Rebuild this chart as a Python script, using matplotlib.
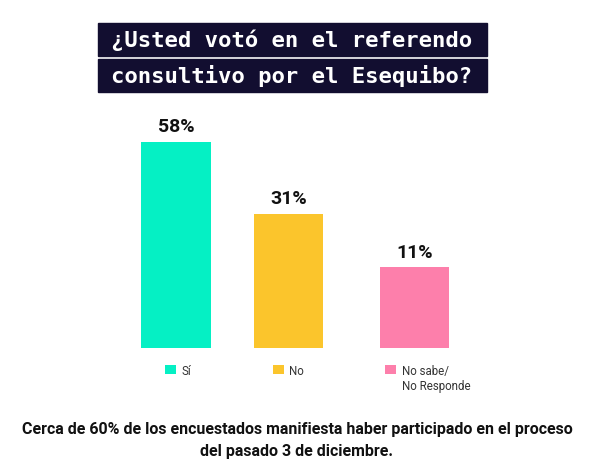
import numpy as np
import matplotlib.pyplot as plt
from matplotlib.patches import Rectangle, Patch

categories = ["Sí", "No", "No sabe/\nNo Responde"]
values = [58, 31, 11]
colors = ["#05f0c4", "#fbc52c", "#fd7fab"]
title_lines = ["¿Usted votó en el referendo", "consultivo por el Esequibo?"]
footer_lines = ["Cerca de 60% de los encuestados manifiesta haber participado en el proceso",
                "del pasado 3 de diciembre."]

W, H = 595, 471
fig = plt.figure(figsize=(W / 100, H / 100), dpi=100)
fig.patch.set_facecolor("white")

# axes placed in pixel terms: x 100..500, y 108..348 (from top)
ax = fig.add_axes([100 / W, (H - 348) / H, 400 / W, 240 / H])
xpos = [0, 1, 2.12]
floor = -19.3
ax.bar(xpos, np.array(values) - floor, bottom=floor, width=0.62, color=colors)
ax.set_xlim(-0.676, 2.88)
ax.set_ylim(floor, floor + 240 / 2.667)
ax.axis("off")

for x, v in zip(xpos, values):
    ax.annotate(f"{v}%", (x, v), xytext=(0, 4), textcoords="offset points",
                ha="center", va="bottom", fontsize=14, fontweight="bold",
                family="Roboto", color="#111111")

# title banners
navy = "#120e30"
for i, line in enumerate(title_lines):
    top = 23 + i * 36
    fig.patches.append(Rectangle((98 / W, 1 - (top + 33) / H), 389 / W, 33 / H,
                                 transform=fig.transFigure, color=navy, zorder=0))
    fig.text(292 / W, 1 - (top + 17) / H, line, ha="center", va="center",
             fontsize=16, fontweight="bold", family="DejaVu Sans Mono", color="white")

handles = [Patch(facecolor=c, edgecolor="none") for c in colors]
leg = fig.legend(handles, categories, ncol=3, loc="upper left",
                 bbox_to_anchor=(165 / W, 1 - 365 / H), frameon=False,
                 prop={"family": "Roboto", "size": 8.3}, labelcolor="#333333",
                 handlelength=0.95, handleheight=0.85, handletextpad=0.45,
                 columnspacing=7.1, borderpad=0, borderaxespad=0)
leg._legend_handle_box.align = "top"
for col in leg._legend_handle_box.get_children():
    for row in col.get_children():
        row.align = "top"

for i, line in enumerate(footer_lines):
    fig.text(297 / W, 1 - (434 + 22 * i) / H, line, ha="center", va="baseline",
             fontsize=11.5, fontweight="bold", family="Roboto", color="#111111")

fig.savefig("out.png", dpi=100)
